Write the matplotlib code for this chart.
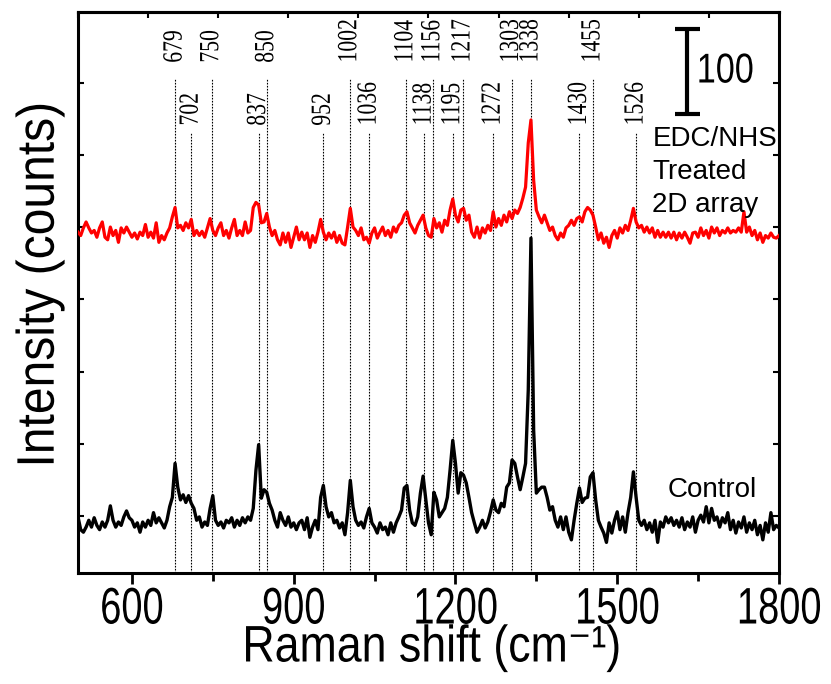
import numpy as np
import matplotlib
matplotlib.use("Agg")
import matplotlib.pyplot as plt
from matplotlib.patheffects import AbstractPathEffect
from matplotlib.ticker import FixedLocator, NullFormatter
from matplotlib.transforms import Affine2D

# Raman shift grid (cm-1), one reading every 5 cm-1
shift = np.arange(500, 1801, 5)

# intensities (counts), rows of 50 cm-1
control = [
    66, 51, 48, 54, 62, 54, 65, 56, 51, 60,
    54, 62, 79, 62, 54, 60, 56, 66, 73, 65,
    62, 54, 59, 48, 60, 54, 62, 56, 71, 59,
    65, 59, 53, 62, 78, 89, 129, 101, 86, 92,
    83, 91, 82, 76, 62, 66, 54, 60, 56, 76,
    91, 62, 56, 60, 53, 62, 59, 65, 54, 62,
    56, 65, 59, 66, 62, 76, 121, 151, 88, 98,
    95, 82, 74, 62, 54, 71, 62, 56, 66, 54,
    59, 51, 59, 62, 51, 65, 42, 54, 62, 51,
    89, 103, 78, 66, 71, 59, 62, 53, 59, 45,
    71, 109, 78, 62, 56, 60, 53, 66, 76, 59,
    54, 47, 59, 51, 54, 45, 59, 48, 59, 66,
    74, 100, 103, 74, 59, 56, 66, 94, 114, 86,
    59, 45, 95, 86, 66, 71, 76, 89, 121, 156,
    129, 94, 118, 115, 106, 89, 71, 59, 48, 54,
    62, 53, 60, 72, 86, 74, 71, 82, 78, 101,
    106, 133, 129, 113, 98, 113, 129, 215, 394, 168,
    94, 98, 101, 101, 89, 74, 78, 62, 54, 66,
    51, 66, 48, 39, 62, 82, 100, 83, 88, 89,
    113, 118, 86, 62, 54, 47, 36, 59, 47, 62,
    72, 51, 66, 48, 71, 89, 119, 89, 62, 56,
    62, 51, 59, 48, 62, 36, 60, 54, 66, 59,
    65, 56, 62, 54, 65, 51, 60, 54, 66, 48,
    62, 68, 60, 78, 59, 76, 62, 66, 54, 65,
    59, 71, 51, 62, 47, 60, 53, 66, 48, 59,
    51, 62, 45, 56, 39, 59, 48, 71, 51, 56,
    53,
]

treated = [
    401, 397, 406, 413, 406, 400, 403, 395, 406, 413,
    395, 392, 407, 397, 403, 389, 406, 400, 407, 401,
    395, 400, 393, 401, 397, 410, 395, 401, 394, 412,
    389, 397, 392, 400, 406, 419, 430, 406, 409, 403,
    412, 406, 416, 397, 403, 397, 402, 395, 406, 417,
    403, 397, 406, 412, 397, 403, 394, 406, 416, 397,
    403, 397, 413, 400, 403, 430, 436, 433, 412, 413,
    423, 407, 397, 403, 392, 386, 400, 389, 400, 383,
    395, 407, 392, 401, 392, 400, 383, 397, 389, 401,
    416, 401, 392, 400, 394, 401, 389, 397, 388, 386,
    407, 429, 407, 403, 397, 406, 392, 395, 388, 400,
    406, 394, 401, 407, 397, 403, 395, 407, 401, 409,
    412, 421, 425, 412, 406, 400, 409, 415, 421, 406,
    397, 395, 417, 406, 412, 401, 415, 409, 427, 440,
    421, 413, 427, 429, 415, 421, 401, 395, 407, 394,
    406, 400, 409, 403, 425, 407, 417, 409, 421, 413,
    425, 417, 427, 423, 430, 441, 454, 506, 533, 462,
    427, 419, 412, 421, 412, 403, 407, 397, 392, 400,
    395, 406, 409, 415, 409, 417, 419, 413, 425, 430,
    427, 421, 407, 392, 400, 388, 395, 383, 397, 403,
    394, 406, 400, 409, 403, 415, 429, 413, 406, 409,
    401, 407, 400, 406, 395, 403, 395, 401, 395, 401,
    394, 401, 392, 400, 394, 401, 395, 388, 400, 401,
    395, 406, 397, 403, 394, 407, 400, 406, 397, 403,
    400, 406, 400, 403, 401, 406, 401, 425, 401, 407,
    397, 403, 392, 400, 389, 397, 394, 400, 395, 394,
    397,
]

# assigned bands: label, where the guide line sits, label row (0 = upper)
peak_labels = [679, 702, 750, 837, 850, 952, 1002, 1036, 1104, 1138,
               1156, 1195, 1217, 1272, 1303, 1338, 1430, 1455, 1526]
peak_lines = [680, 710, 748, 835, 850, 955, 1004, 1040, 1108, 1142,
              1158, 1195, 1214, 1270, 1304, 1340, 1430, 1455, 1535]
peak_rows = [0, 1, 0, 1, 0, 1, 0, 1, 0, 1,
             0, 1, 0, 1, 0, 0, 1, 0, 1]

x_ticks = [600, 900, 1200, 1500, 1800]


class Squeeze(AbstractPathEffect):
    """Narrow the glyphs along the writing direction (the original uses
    condensed faces). Pins either the middle or the start of the string."""

    def __init__(self, sx, pin="center"):
        super().__init__()
        self.sx = sx
        self.pin = pin

    def draw_path(self, renderer, gc, tpath, affine, rgbFace=None):
        ext = tpath.get_extents()
        cx = ext.x0 if self.pin == "start" else 0.5 * (ext.x0 + ext.x1)
        sq = Affine2D().translate(-cx, 0).scale(self.sx, 1).translate(cx, 0)
        renderer.draw_path(gc, tpath, sq + affine, rgbFace)


SANS = ["Liberation Sans", "DejaVu Sans"]
SERIF = ["Liberation Serif", "DejaVu Serif"]

fig = plt.figure(figsize=(8.31, 6.84), dpi=100)
ax = fig.add_axes([78 / 831, 111 / 684, 701 / 831, 561 / 684])

# guide lines + rotated labels
row_label_y = [600, 526]
row_line_top = [582, 518]
for lab, pos, row in zip(peak_labels, peak_lines, peak_rows):
    ax.plot([pos, pos], [0, row_line_top[row]], color="k", lw=0.8,
            ls=(0, (1.5, 1.2)), zorder=1)
    ax.text(pos, row_label_y[row], str(lab), rotation=90, ha="center",
            va="bottom", fontsize=20, family=SERIF,
            path_effects=[Squeeze(0.78, pin="start")])

ax.plot(shift, control, color="k", lw=2.4, zorder=3)
ax.plot(shift, treated, color="#ff0000", lw=2.3, zorder=3)

# 100-count scale bar
ax.errorbar(1629, 590, yerr=50, fmt="none", ecolor="k", elinewidth=3,
            capsize=9, capthick=3)
ax.text(1700, 590, "100", ha="center", va="center", fontsize=30,
        family=SANS, path_effects=[Squeeze(0.82)])

for i, line in enumerate(["EDC/NHS", "Treated", "2D array"]):
    ax.text(1565, 502 - i * 38.5, line, ha="left", va="baseline",
            fontsize=20, family=SANS)
ax.text(1594, 89, "Control", ha="left", va="baseline", fontsize=20,
        family=SANS)

ax.set_xlim(500, 1800)
ax.set_ylim(0, 660)

ax.set_xticks(x_ticks)
ax.set_xticklabels([str(t) for t in x_ticks], family=SANS, fontsize=37,
                   path_effects=[Squeeze(0.74)])
ax.xaxis.set_minor_locator(FixedLocator([750, 1050, 1350, 1650]))
ax.yaxis.set_major_locator(FixedLocator([67, 152, 237, 322, 407, 492, 577]))
ax.yaxis.set_major_formatter(NullFormatter())
ax.tick_params(axis="x", which="major", direction="out", length=8, width=2,
               pad=1)
ax.tick_params(axis="x", which="minor", direction="out", length=6, width=2)
ax.tick_params(axis="y", which="major", direction="in", length=4, width=1.5,
               right=True)

# top axis carries its own ten divisions
top = ax.secondary_xaxis("top")
top.set_xticks(np.linspace(500, 1800, 11))
top.tick_params(direction="in", length=4, width=1.5, labeltop=False)

for sp in ax.spines.values():
    sp.set_linewidth(2.2)
top.spines["top"].set_linewidth(2.2)

ax.set_xlabel("Raman shift (cm\u207b\u00b9)", fontsize=37, family=SANS,
              path_effects=[Squeeze(0.87)])
ax.set_ylabel("Intensity (counts)", fontsize=38, family=SANS,
              path_effects=[Squeeze(0.91)])
ax.xaxis.set_label_coords(0.504, -0.09)
ax.yaxis.set_label_coords(-0.019, 0.513)

fig.savefig("out.png", dpi=100)
